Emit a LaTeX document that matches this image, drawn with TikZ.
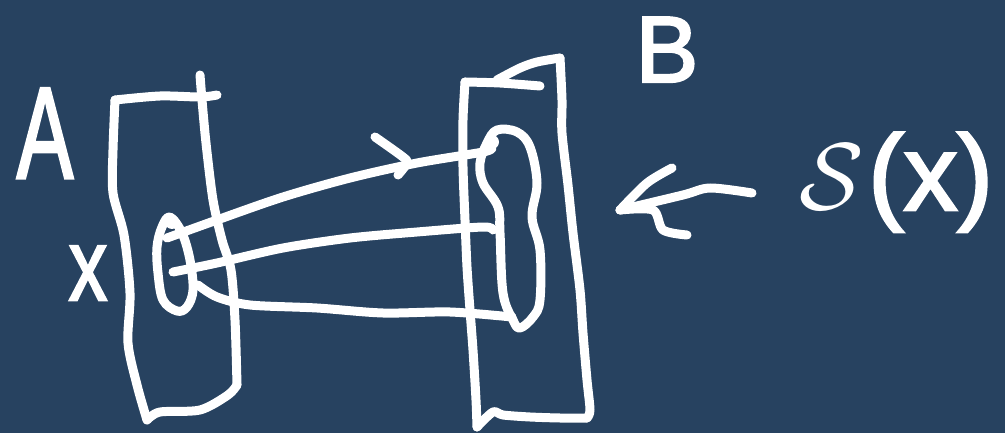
\documentclass[tikz,border=0pt]{standalone}
\usepackage{fontspec}
\newfontfamily\hand[FakeBold=2.5]{Liberation Sans}
\definecolor{bgblue}{RGB}{39,66,96}
\tikzset{
  pen/.style={draw=white, line width=9pt, line cap=round, line join=round},
  lbl/.style={text=white, inner sep=0pt, anchor=base},
}
\begin{document}
\begin{tikzpicture}[x=1pt,y=-1pt]
\fill[bgblue] (0,0) rectangle (1005,433);
\useasboundingbox (0,0) rectangle (1005,433);
% set A
\draw[pen] plot[smooth,tension=0.5] coordinates {(115,100) (160,96) (200,97) (217,95)};
\draw[pen] plot[smooth,tension=0.5] coordinates {(115,100) (113,150) (113,193) (124,235) (130,293) (128,343) (137,385) (147,420)};
\draw[pen] plot[smooth,tension=0.5] coordinates {(147,420) (160,412) (200,410) (228,395) (237,385)};
\draw[pen] plot[smooth,tension=0.5] coordinates {(200,75) (202,100) (206,143) (213,200) (222,240) (231,270) (235,320) (237,385)};
% small set around x
\draw[pen] plot[smooth cycle,tension=0.6] coordinates {(170,217) (182,233) (190,260) (193,290) (187,307) (177,311) (163,300) (158,273) (157,247) (162,227)};
\fill[white] (172,222) circle (7);
% set B
\draw[pen] plot[smooth,tension=0.5] coordinates {(465,82) (500,83) (540,86)};
\draw[pen] plot[smooth,tension=0.5] coordinates {(497,80) (520,68) (537,62) (560,58)};
\draw[pen] plot[smooth,tension=0.5] coordinates {(560,58) (562,100) (562,133) (568,185) (573,233) (580,290) (583,333) (587,380) (590,410) (587,418)};
\draw[pen] plot[smooth,tension=0.5] coordinates {(587,418) (560,418) (530,417) (503,415) (493,412) (477,427)};
\draw[pen] plot[smooth,tension=0.5] coordinates {(465,82) (463,120) (463,167) (465,220) (467,267) (470,310) (473,350) (476,400) (477,427)};
% image blob in B
\draw[pen] plot[smooth cycle,tension=0.6] coordinates {(497,130) (517,132) (530,147) (537,183) (532,217) (540,250) (540,300) (533,317) (520,328) (513,320) (503,293) (500,233) (498,207) (483,183) (480,163) (487,143)};
\fill[white] (492,142) circle (7);
% mapping lines
\draw[pen] plot[smooth,tension=0.5] coordinates {(167,238) (217,220) (283,197) (350,178) (417,163) (483,152) (492,148)};
\draw[pen] plot[smooth,tension=0.5] coordinates {(375,137) (403,157) (407,163) (398,175)};
\draw[pen] plot[smooth,tension=0.5] coordinates {(173,272) (217,263) (283,248) (350,238) (417,232) (483,227) (493,230)};
\draw[pen] plot[smooth,tension=0.5] coordinates {(198,285) (217,297) (250,305) (317,308) (383,313) (450,312) (512,317)};
% arrow to blob
\draw[pen] plot[smooth,tension=0.5] coordinates {(752,193) (710,188) (683,195) (620,210)};
\draw[pen] plot[smooth,tension=0.5] coordinates {(620,210) (647,183) (672,168)};
\draw[pen] plot[smooth,tension=0.5] coordinates {(620,210) (653,210) (663,230) (687,235)};
% labels
\node[lbl, xscale=0.65] (labA) at (45,178) {\hand\fontsize{130}{130}\selectfont A};
\node[lbl] (labB) at (667,82) {\hand\fontsize{94}{94}\selectfont B};
\node[lbl, xscale=0.75] (labx) at (88,300) {\hand\fontsize{102}{102}\selectfont x};
\node[lbl, scale=9.5, anchor=base west] (labS) at (798,210) {$\mathcal{S}$};
\node[lbl, anchor=base west] (labSx) at (868,210) {\hand\fontsize{107}{107}\selectfont (x)};
\end{tikzpicture}
\end{document}
